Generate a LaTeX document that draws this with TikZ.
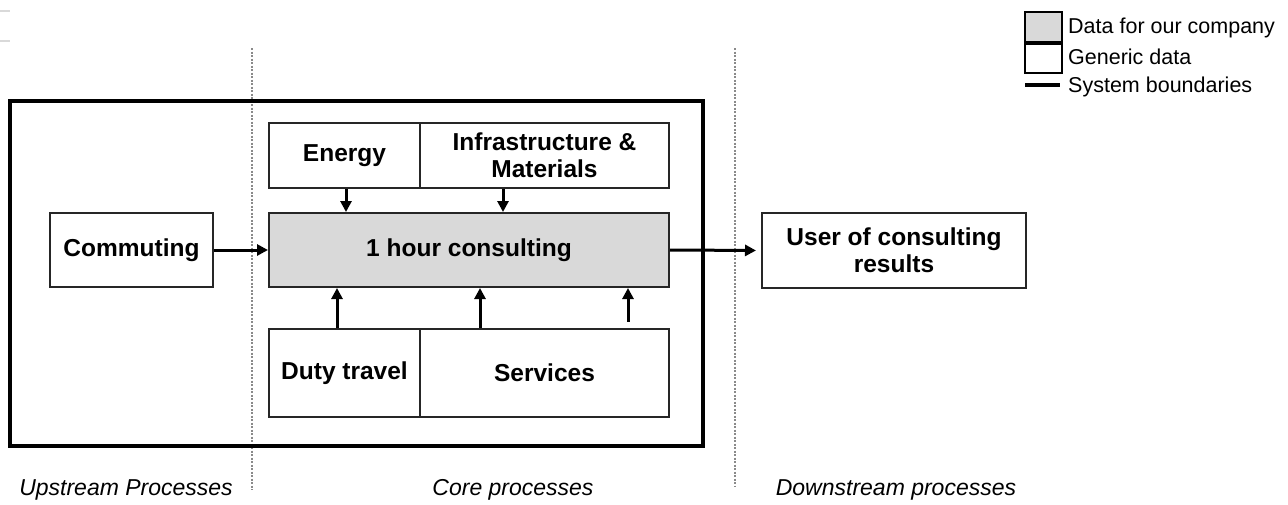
\documentclass[tikz,border=0pt]{standalone}
\usepackage{fontspec}
\setmainfont{Liberation Sans}
\usetikzlibrary{arrows.meta}
\definecolor{boxgray}{HTML}{D9D9D9}
\definecolor{dotgray}{HTML}{8A8A8A}
\tikzset{
  proc/.style={draw=black!85, line width=2pt, inner sep=0pt, align=center,
    font=\fontsize{24.5}{28}\selectfont\bfseries},
  arr/.style={line width=3pt, -{Triangle[length=11pt,width=11pt]}},
  divider/.style={dotgray, line width=1.2pt, dash pattern=on 2pt off 1.5pt},
  boundary/.style={draw=black, line width=4pt, inner sep=0pt},
  legtext/.style={anchor=west, inner sep=0pt, font=\fontsize{21.5}{25}\selectfont},
  phase/.style={inner sep=0pt, font=\fontsize{23}{27}\selectfont\itshape}
}
\begin{document}
\begin{tikzpicture}[x=1pt,y=-1pt]
\useasboundingbox (0,0) rectangle (1288,504);
% faint marks top-left
\draw[black!15, line width=2pt] (0,11) -- (10,11);
\draw[black!15, line width=2pt] (0,41) -- (10,41);
% phase dividers
\coordinate (d1t) at (252,48); \coordinate (d1b) at (252,490);
\coordinate (d2t) at (735,48); \coordinate (d2b) at (735,487);
\draw[divider] (d1t) -- (d1b);
\draw[divider] (d2t) -- (d2b);
% system boundary
\node[boundary, minimum width=693pt, minimum height=345pt] (sys) at (356.5,273.25) {};
% boxes
\node[proc, minimum width=151pt, minimum height=65pt] (energy) at (344.5,155.5) {Energy};
\node[proc, minimum width=249pt, minimum height=65pt] (infra) at (544.5,155.5) {Infrastructure \&\\[-1pt]Materials};
\node[proc, fill=boxgray, minimum width=400pt, minimum height=74pt] (consult) at (469,250) {1 hour consulting};
\node[proc, minimum width=151pt, minimum height=88.5pt] (duty) at (344.5,373) {Duty travel};
\node[proc, minimum width=249pt, minimum height=88.5pt] (services) at (544.5,373) {Services};
\node[proc, minimum width=163pt, minimum height=74pt] (commuting) at (131.5,250) {Commuting};
\node[proc, minimum width=264pt, minimum height=75pt] (user) at (894,250.5) {User of consulting\\[-1pt]results};
% arrows
\draw[arr] (commuting.east) -- (consult.west);
\draw[arr, shorten >=5pt] (consult.east) -- (user.west);
\draw[arr] ([xshift=1.5pt]energy.south) -- ([xshift=1.5pt]energy.south |- consult.north);
\draw[arr] ([xshift=-41.5pt]infra.south) -- ([xshift=-41.5pt]infra.south |- consult.north);
\draw[arr] ([xshift=-7.5pt]duty.north) -- ([xshift=-7.5pt]duty.north |- consult.south);
\draw[arr] ([xshift=-64.5pt]services.north) -- ([xshift=-64.5pt]services.north |- consult.south);
\draw[arr] ([xshift=83.5pt,yshift=6pt]services.north) -- ([xshift=83.5pt]services.north |- consult.south);
% legend
\node[draw=black, line width=2pt, fill=boxgray, minimum width=37pt, minimum height=30pt, inner sep=0pt] (lgray) at (1043.5,27) {};
\node[draw=black, line width=2pt, fill=white, minimum width=37pt, minimum height=29pt, inner sep=0pt, anchor=north] (lwhite) at (lgray.south) {};
\coordinate (lla) at (1025,85); \coordinate (llb) at (1060,85);
\draw[line width=3.5pt] (lla) -- (llb);
\node[legtext] (t1) at (1068,28) {Data for our company};
\node[legtext] (t2) at (1068,57) {Generic data};
\node[legtext] (t3) at (1068,87) {System boundaries};
% phase labels
\node[phase] (up) at (126,490) {Upstream Processes};
\node[phase] (core) at (513,490) {Core processes};
\node[phase] (down) at (896,490) {Downstream processes};
\end{tikzpicture}
\end{document}
